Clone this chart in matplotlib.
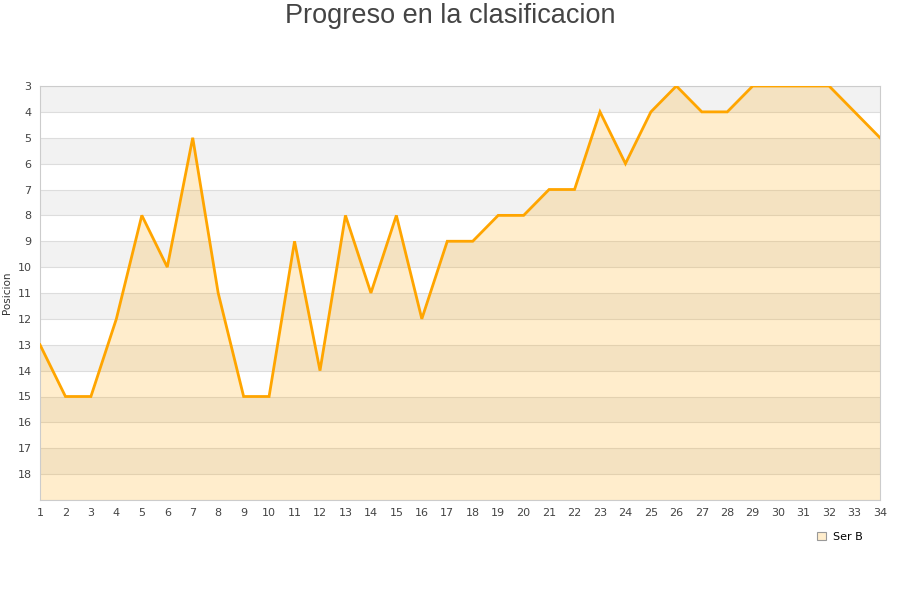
import matplotlib
matplotlib.use("Agg")
import matplotlib.pyplot as plt
from matplotlib.patches import Patch

jornadas = list(range(1, 35))
posicion = [13, 15, 15, 12, 8, 10, 5, 11, 15, 15, 9, 14, 8, 11, 8, 12, 9, 9,
            8, 8, 7, 7, 4, 6, 4, 3, 4, 4, 3, 3, 3, 3, 4, 5]
y_ticks = list(range(3, 19))
serie = "Ser B"
titulo = "Progreso en la clasificacion"
y_label = "Posicion"

fig = plt.figure(figsize=(9, 6), dpi=100)
ax = fig.add_axes([40/900, 100/600, 840/900, 414/600])

y_top, y_bottom = 3, 19
# alternating bands
for k in range(y_top, y_bottom):
    ax.axhspan(k, k + 1, color='#f2f2f2' if k % 2 == 1 else 'white', zorder=0, lw=0)
for k in range(y_top, y_bottom + 1):
    ax.axhline(k, color='#dddddd', lw=0.8, zorder=1)

ax.fill_between(jornadas, posicion, y_bottom, color='#ffa500', alpha=0.2, lw=0, zorder=2)
ax.plot(jornadas, posicion, color='#ffa500', lw=2, zorder=3, solid_joinstyle='miter')

ax.set_xlim(1, 34)
ax.set_ylim(y_bottom, y_top)
ax.set_xticks(jornadas)
ax.set_yticks(y_ticks)
ax.tick_params(length=0, labelsize=8, colors='#444444', pad=6)
for s in ax.spines.values():
    s.set_color('#cccccc')
    s.set_linewidth(0.8)

ax.set_ylabel(y_label, fontsize=7.5, color='#333333', labelpad=4)
fig.text(0.5, 1 - 16/600, titulo, ha='center', va='center', fontsize=19.5,
         color='#444444', family='Liberation Sans')

handle = Patch(facecolor='#ffedcc', edgecolor='#999999', lw=0.8)
fig.legend([handle], [serie], loc='center', bbox_to_anchor=(840/900, 1 - 537/600),
           frameon=False, fontsize=8, handlelength=0.8, handleheight=0.8,
           handletextpad=0.6)

fig.savefig('out.png', dpi=100)
